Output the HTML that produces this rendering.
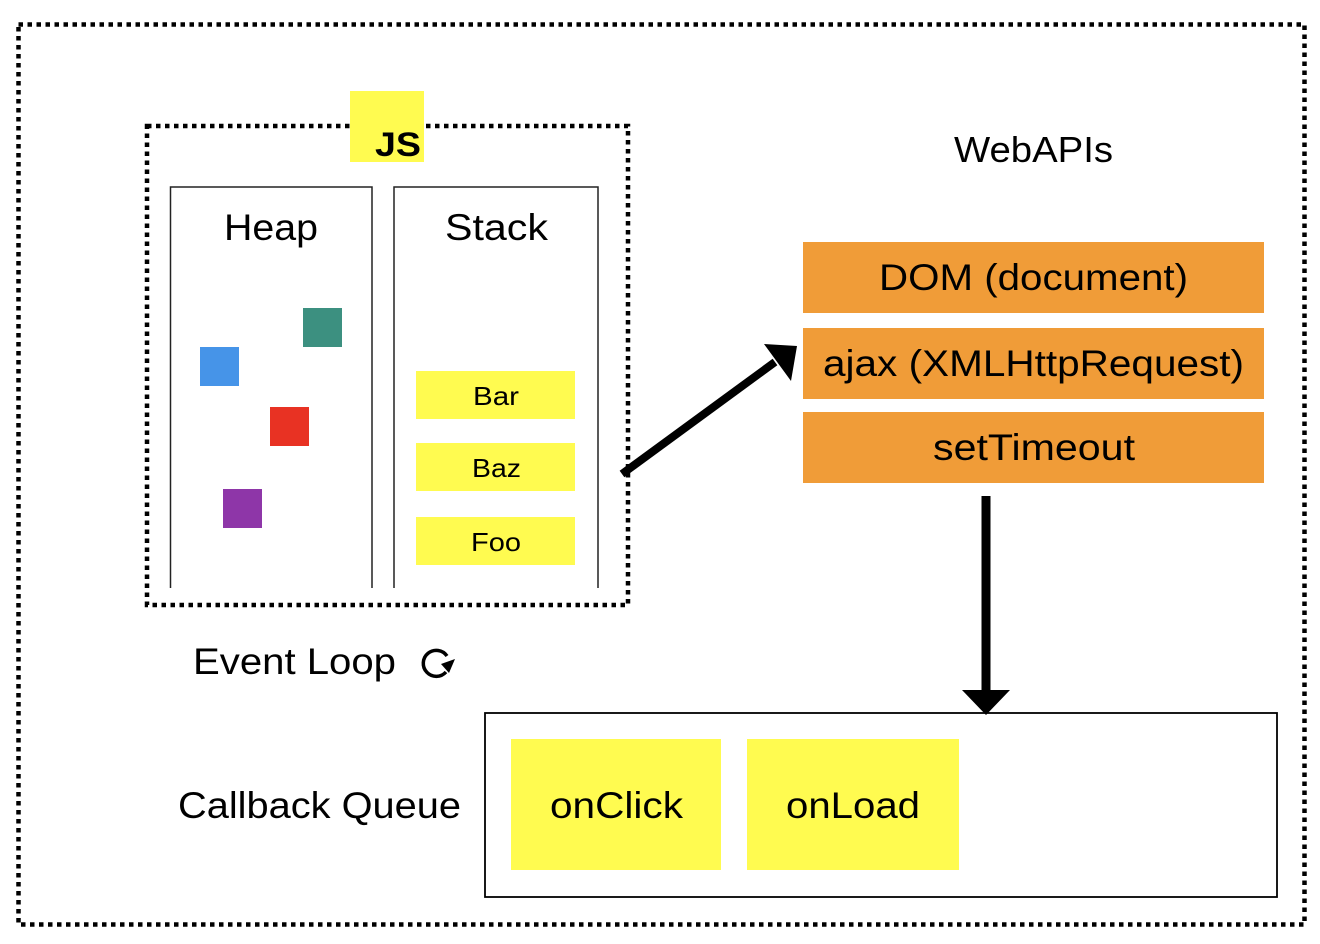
<!DOCTYPE html>
<html><head><meta charset="utf-8"><style>
html,body{margin:0;padding:0;background:#fff}
svg{display:block}
text{font-family:"Liberation Sans",sans-serif;fill:#000}
</style></head><body>
<svg width="1320" height="944" viewBox="0 0 1320 944">
<rect x="18.5" y="24.5" width="1286" height="900" fill="none" stroke="#000" stroke-width="4.5" stroke-dasharray="4.5 4.5"/>
<rect x="147" y="126" width="481" height="479" fill="none" stroke="#000" stroke-width="4.5" stroke-dasharray="4.5 4.5"/>
<rect x="350" y="91" width="74" height="71" fill="#fffb50"/>
<text x="375" y="156" font-size="34" font-weight="bold" textLength="46" lengthAdjust="spacingAndGlyphs">JS</text>
<path d="M170.5 588V187H372V588" fill="none" stroke="#222" stroke-width="1.5"/>
<path d="M394 588V187H598V588" fill="none" stroke="#222" stroke-width="1.5"/>
<text x="224" y="240" font-size="37" textLength="94" lengthAdjust="spacingAndGlyphs">Heap</text>
<text x="445" y="240" font-size="37" textLength="103" lengthAdjust="spacingAndGlyphs">Stack</text>
<rect x="303" y="308" width="39" height="39" fill="#3c9080"/>
<rect x="200" y="347" width="39" height="39" fill="#4694e8"/>
<rect x="270" y="407" width="39" height="39" fill="#e83223"/>
<rect x="223" y="489" width="39" height="39" fill="#8e36a8"/>
<rect x="416" y="371" width="159" height="48" fill="#fffb50"/>
<rect x="416" y="443" width="159" height="48" fill="#fffb50"/>
<rect x="416" y="517" width="159" height="48" fill="#fffb50"/>
<text x="473" y="405" font-size="26" textLength="46" lengthAdjust="spacingAndGlyphs">Bar</text>
<text x="472" y="477" font-size="26" textLength="49" lengthAdjust="spacingAndGlyphs">Baz</text>
<text x="471" y="551" font-size="26" textLength="50" lengthAdjust="spacingAndGlyphs">Foo</text>
<text x="954" y="162" font-size="36" textLength="159" lengthAdjust="spacingAndGlyphs">WebAPIs</text>
<rect x="803" y="242" width="461" height="71" fill="#f09c38"/>
<rect x="803" y="328" width="461" height="71" fill="#f09c38"/>
<rect x="803" y="412" width="461" height="71" fill="#f09c38"/>
<text x="879" y="290" font-size="37" textLength="309" lengthAdjust="spacingAndGlyphs">DOM (document)</text>
<text x="823" y="376" font-size="37" textLength="421" lengthAdjust="spacingAndGlyphs">ajax (XMLHttpRequest)</text>
<text x="933" y="460" font-size="37" textLength="202" lengthAdjust="spacingAndGlyphs">setTimeout</text>
<line x1="622" y1="474" x2="775" y2="362" stroke="#000" stroke-width="8"/>
<polygon points="797,346 764,344 791,381" fill="#000"/>
<line x1="986" y1="496" x2="986" y2="695" stroke="#000" stroke-width="9"/>
<polygon points="962,690 1010,690 986,715" fill="#000"/>
<text x="193" y="674" font-size="37" textLength="203" lengthAdjust="spacingAndGlyphs">Event Loop</text>
<path d="M447 656 A13 13 0 1 0 446 672" fill="none" stroke="#000" stroke-width="3.5"/>
<polygon points="441,664 455,659 449,673" fill="#000"/>
<rect x="485" y="713" width="792" height="184" fill="none" stroke="#000" stroke-width="1.8"/>
<text x="178" y="818" font-size="37" textLength="283" lengthAdjust="spacingAndGlyphs">Callback Queue</text>
<rect x="511" y="739" width="210" height="131" fill="#fffb50"/>
<rect x="747" y="739" width="212" height="131" fill="#fffb50"/>
<text x="550" y="818" font-size="37" textLength="133" lengthAdjust="spacingAndGlyphs">onClick</text>
<text x="786" y="818" font-size="37" textLength="134" lengthAdjust="spacingAndGlyphs">onLoad</text>
</svg>
</body></html>
